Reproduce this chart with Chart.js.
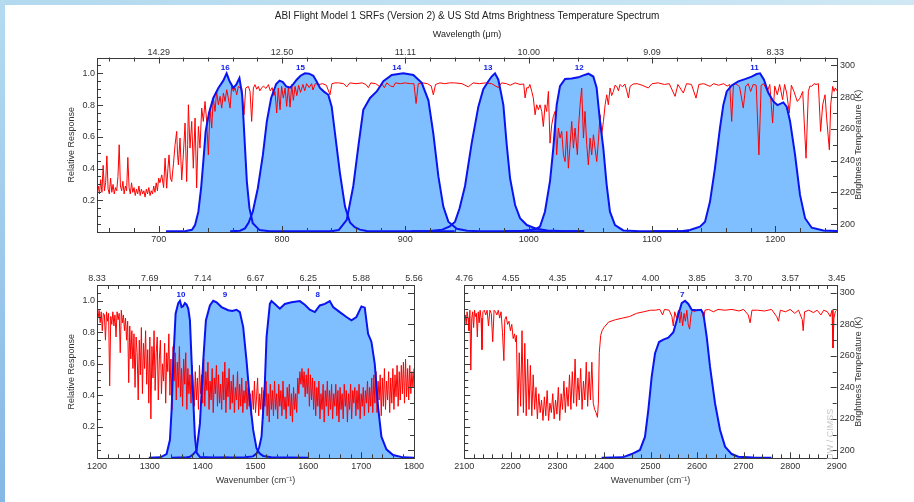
<!DOCTYPE html>
<html>
<head>
<meta charset="utf-8">
<script src="https://cdn.jsdelivr.net/npm/chart.js@4.4.1/dist/chart.umd.min.js"></script>
<style>
  html, body { margin: 0; padding: 0; background: #fff; }
  #page { position: relative; width: 914px; height: 502px; overflow: hidden; background: #fff; }
  #topbar { position: absolute; left: 0; top: 0; width: 914px; height: 5px; background: linear-gradient(90deg, #b2d9ef, #cfe8f4); }
  #leftbar { position: absolute; left: 0; top: 0; width: 5px; height: 502px; background: linear-gradient(#b4dbf0, #86b8e6); }
  canvas { position: absolute; }
</style>
</head>
<body>
<div id="page">
  <div id="topbar"></div>
  <div id="leftbar"></div>
  <canvas id="topChart" width="914" height="250" style="left:0;top:0"></canvas>
  <canvas id="lwChart" width="440" height="252" style="left:0;top:250px"></canvas>
  <canvas id="swChart" width="474" height="252" style="left:440px;top:250px"></canvas>
</div>
<script>
// ---- tick labels ----
const topWnTicks = [700, 800, 900, 1000, 1100, 1200];
const topWlLabels = ['14.29', '12.50', '11.11', '10.00', '9.09', '8.33'];
const lwWnTicks = [1200, 1300, 1400, 1500, 1600, 1700, 1800];
const lwWlLabels = ['8.33', '7.69', '7.14', '6.67', '6.25', '5.88', '5.56'];
const swWnTicks = [2100, 2200, 2300, 2400, 2500, 2600, 2700, 2800, 2900];
const swWlLabels = ['4.76', '4.55', '4.35', '4.17', '4.00', '3.85', '3.70', '3.57', '3.45'];
const respTicks = [0.2, 0.4, 0.6, 0.8, 1.0];
const btTicks = [200, 220, 240, 260, 280, 300];

// ---- band labels ----
const topBands = ['16', '15', '14', '13', '12', '11'];
const topBandWn = [754, 815, 893, 967, 1041, 1183];
const lwBands = ['10', '9', '8'];
const lwBandWn = [1359, 1442, 1618];
const swBands = ['7'];
const swBandWn = [2568];

// ---- spectral response functions [wavenumber, relative response] ----
const srf16 = [[706,0.004],[722,0.006],[727,0.014],[729.5,0.044],[732.2,0.128],[734.4,0.276],[736.2,0.444],[738.1,0.634],[740.8,0.75],[744.3,0.845],[748.4,0.908],[752.4,0.954],[755.1,1.0],[757.5,0.95],[760.6,0.908],[763,0.93],[765.5,0.97],[767.7,0.865],[769.6,0.59],[771.5,0.318],[773.6,0.15],[776.3,0.055],[781.8,0.012],[790,0.005],[842,0.004]];
const srf15 = [[758,0.004],[766,0.008],[770,0.023],[773,0.06],[776.3,0.128],[780.4,0.276],[784.5,0.486],[787.7,0.697],[791.2,0.845],[795.3,0.933],[798,0.954],[800.7,0.945],[803.4,0.918],[806.5,0.91],[809,0.93],[811.9,0.96],[815,0.985],[818.6,1.0],[822,0.998],[825.4,0.985],[828,0.95],[830.8,0.908],[834,0.885],[837.5,0.865],[840.3,0.79],[843,0.62],[847,0.37],[851.1,0.16],[855.1,0.06],[859,0.03],[863.2,0.015],[868.7,0.006],[900,0.004],[940,0.004]];
const srf14 = [[839,0.004],[846,0.012],[852.5,0.076],[857.8,0.29],[861.9,0.54],[865.9,0.77],[871.4,0.845],[876.8,0.886],[882.2,0.95],[889,0.99],[898.4,1.0],[906.5,0.99],[913.3,0.94],[918.7,0.83],[922.7,0.62],[926.8,0.35],[930.8,0.16],[934.9,0.065],[941.7,0.02],[950,0.008],[960,0.005],[1000,0.004],[1045,0.004]];
const srf13 = [[905,0.004],[920,0.006],[930,0.015],[936,0.035],[940.3,0.065],[944,0.15],[948.4,0.29],[953.8,0.56],[959.2,0.79],[963.2,0.9],[967.3,0.95],[970,0.98],[972.7,1.0],[975.4,0.96],[977.5,0.88],[979.5,0.8],[982.2,0.55],[984.9,0.34],[989,0.17],[993,0.087],[998.5,0.044],[1006.6,0.02],[1015,0.01],[1030,0.005],[1045,0.004]];
const srf12 = [[980,0.004],[995,0.008],[1001,0.013],[1006,0.02],[1009.2,0.034],[1013.2,0.128],[1017.3,0.32],[1020,0.53],[1022.7,0.8],[1025.4,0.92],[1029.5,0.965],[1034.9,0.967],[1040.3,0.975],[1044.3,0.987],[1048.4,0.998],[1052.4,0.98],[1055.1,0.91],[1057.8,0.7],[1060.5,0.53],[1063.2,0.3],[1065.9,0.128],[1070,0.044],[1076.7,0.01],[1090,0.005],[1130,0.004]];
const srf11 = [[1100,0.004],[1125,0.006],[1130.8,0.013],[1138.9,0.034],[1143,0.065],[1147,0.19],[1151,0.4],[1155.1,0.655],[1157.8,0.8],[1160.6,0.886],[1164.6,0.924],[1170,0.95],[1175.4,0.964],[1180.8,0.979],[1184.9,0.996],[1187.6,1.0],[1190.8,0.96],[1194.4,0.876],[1198.4,0.823],[1201.7,0.8],[1206.5,0.817],[1209.2,0.79],[1211.9,0.7],[1216,0.486],[1220,0.234],[1224.1,0.087],[1229.5,0.027],[1239,0.01],[1250,0.006]];
const srf10 = [[1298,0.004],[1320,0.006],[1331.7,0.027],[1338,0.116],[1341.2,0.306],[1344.4,0.62],[1348.8,0.918],[1353.8,0.985],[1357,1.0],[1360.1,0.96],[1363,0.965],[1366.4,0.985],[1369.5,0.975],[1372.7,0.95],[1375.9,0.875],[1379,0.62],[1382.2,0.37],[1385.3,0.137],[1388.5,0.036],[1394.8,0.008],[1420,0.004],[1450,0.004]];
const srf9 = [[1340,0.004],[1370,0.006],[1375.9,0.01],[1382,0.025],[1388.5,0.05],[1394.8,0.22],[1401.1,0.62],[1406.1,0.875],[1413.7,0.97],[1420,1.0],[1426.3,0.99],[1435.7,0.96],[1448.4,0.94],[1456,0.935],[1464.1,0.943],[1470.4,0.928],[1476.7,0.833],[1483,0.62],[1489.3,0.37],[1495.6,0.18],[1502,0.063],[1508,0.03],[1514.6,0.015],[1530,0.006],[1600,0.004]];
const srf8 = [[1400,0.004],[1480,0.006],[1495,0.012],[1502,0.03],[1507,0.07],[1511.4,0.137],[1517.7,0.475],[1520.9,0.77],[1527.2,0.98],[1530.3,0.998],[1536.6,0.98],[1546.1,0.95],[1555.5,0.98],[1568.1,0.99],[1583.9,0.998],[1593.3,0.975],[1602.8,0.943],[1612.3,0.928],[1621.7,0.97],[1631.2,0.98],[1640.6,0.998],[1646.9,0.96],[1659.5,0.928],[1672.1,0.897],[1681.6,0.876],[1691,0.897],[1700.5,0.964],[1706.8,0.956],[1713.1,0.79],[1719.4,0.74],[1725.7,0.6],[1732,0.327],[1738.3,0.137],[1747.8,0.057],[1760.4,0.021],[1779.3,0.006],[1800,0.004]];
const srf7 = [[2395,0.004],[2440,0.006],[2459.6,0.027],[2477.4,0.053],[2488.2,0.137],[2495.3,0.306],[2502.5,0.517],[2509.7,0.665],[2518.3,0.738],[2527.6,0.753],[2538.3,0.766],[2549.1,0.8],[2558.4,0.897],[2567,0.985],[2574.2,1.0],[2581.3,0.98],[2588.5,0.943],[2599.2,0.939],[2608.6,0.943],[2613.6,0.918],[2620.8,0.77],[2627.9,0.58],[2638.7,0.348],[2649.4,0.18],[2660.2,0.074],[2674.5,0.027],[2688.8,0.01],[2720,0.005],[2760,0.004]];

// ---- US standard atmosphere brightness temperature [wavenumber, K] ----
const topSpectrum = [[650,221],[651,224],[652,219],[653,228],[654,220],[655,237],[656,221],[657,226],[658,243],[659,222],[660,219],[661,229],[662,220],[663,225],[664,219],[665,223],[666,221],[667,230],[668,250],[669,224],[670,221],[671,227],[672,219],[673,224],[674,221],[675,242],[676,223],[677,219],[678,226],[679,220],[680,223],[681,218],[682,222],[683,219],[684,224],[685,218],[686,222],[687,219],[688,221],[689,217],[690,222],[691,219],[692,223],[693,218],[694,221],[695,219],[696,224],[697,220],[698,226],[699,221],[700,229],
  [701,226],[702.5,231],[704,223],[705.2,241.5],[706.5,222.6],[707.5,235],[708.4,243.6],[709.5,229],[710.6,226.8],[712,238],[713.3,250],[714.6,258.4],[715.3,244],[716,237.3],[717.3,254.2],[718.7,227.8],[720,243.6],[721.4,263.7],[722.7,226.8],[723.5,250],[724.1,275.2],[725.4,247.9],[726.8,264.7],[728.1,235.2],[729.5,266.8],[730.8,222.8],[732.2,261.5],[733.5,247.9],[734.9,273.1],[736.2,264.7],[737.6,277.3],
  [738.9,264.7],[740.3,243.6],[741.6,273.1],[743,260.5],[744.3,279.4],[745.7,271],[747,283.6],[748.4,275.2],[749.8,280.5],[751.1,273.1],[752.5,282.6],[753.8,277.3],[755.2,284.7],[756.5,279.4],[757.9,273.1],[759.2,286.8],[760.6,283.6],[761.9,285.8],[763.3,281.5],[764.6,286.8],[766,285.8],[767.3,285.8],[769.2,268.9],[770.6,285.8],[772.7,286.8],[774.1,283.6],[775.4,264.7],[776.8,285.8],[778.1,287.9],[779.5,285],[780.8,286.8],[782,284],[783.5,285.8],
  [785,287],[787,285.5],[789,287.9],[790.5,284],[792,286],[793.5,281],[794.3,283.6],[795.7,270],[797,285.8],[798.4,272],[799.7,286.8],[801.1,279.4],[802.5,285.8],[803.8,274.2],[805.2,286.8],[806.5,273.7],[807.9,287.9],[809.2,278],[810.6,286.8],[812,281],[813.5,287.5],[815,283],[817,288],[818.4,284],[820,288.5],[822,286],[824,288.5],[825.1,284.5],[827,288.5],[830,288],[833,288.5],[836,287.5],[838.9,281.5],[840.5,288.5],[843,289],
  [846,289],[850,288.5],[852.5,286.5],[855,289],[860,288.5],[865,289],[868,288],[870,286],[872,289],[876,288.5],[879.5,286.5],[881,288.5],[883,286],[885,289],[888,287],[890.3,286.5],[892,289],[896,288.5],[900,289],[904,288.5],[907,288.5],[908.7,276],[910.5,288.5],[914,289],[918,288.5],[921,287],[922.7,281.5],[924.5,288],[928,289],[932,288.5],[936,289],[940,289],[946,288.5],[951,286.5],[955,289],[960,288.5],[965,289],[970,288.5],[975.4,286],[978,289],[982,288.5],[985,287.5],[989,289],[993,288],
  [996,288.3],[997.1,279.5],[998.5,286],[999.8,285.8],[1001,288],[1002.5,283.6],[1003.8,279.4],[1005.2,268.9],[1006.5,275.2],[1007.9,272.1],[1009.2,275.2],[1010.6,271],[1011.9,261.5],[1013.3,275.2],[1014.6,271],[1016,283.6],[1017.3,251],[1018.7,262.6],[1020,267.9],[1021.4,271],[1022.7,243.6],[1024.1,260.5],[1025.4,254.2],[1026.8,258.4],[1028.2,243.6],[1029.5,239.4],[1030.9,258.4],[1032.2,235.2],[1033.6,250],[1034.9,264.7],[1036.3,247.9],[1037.6,260.5],[1039.5,243.6],[1040.5,262],[1041.7,275.2],[1043,285.8],[1044.4,254.2],[1045.7,271],[1047.1,250],[1048.4,237.3],[1049.8,254.2],[1051.1,243.6],[1052.5,256.3],[1053.8,247.9],[1055.2,239.4],[1056.5,252],[1057.9,268.9],[1059.2,256.3],[1060.6,264.7],[1062,275.2],[1063.3,281.5],[1064.6,275.2],[1066,285.8],[1067.3,281],[1068.7,283.6],[1070,287.5],[1071.4,286.8],[1072.8,284],[1074.1,288],[1076,286.5],[1078,288.3],[1079.5,284],[1080.9,279.5],[1082.2,286.8],[1084.9,288.3],
  [1088,288.5],[1092,287.5],[1097,285.8],[1100,288.5],[1105,289],[1110,288],[1114,288.5],[1118.7,280.5],[1121,288],[1125.4,282.6],[1128,288.5],[1132,288],[1135.7,279.4],[1138,288],[1142,288.5],[1147,286.8],[1150,288.5],[1154,287.5],[1158,288.5],[1161,287],
  [1163,288],[1164.6,264.7],[1166,287.5],[1168,288.5],[1171,286.5],[1174,273.1],[1176,287],[1178,288.5],[1180,283.6],[1182,288],[1184.5,287.5],[1186.7,243.6],[1188.5,287.5],[1190.5,288.5],[1193.5,283.6],[1195.5,288],[1197.8,263.7],[1199.5,287],[1201.6,281.5],[1203.5,288],[1205.9,278.4],[1207.5,288],[1209.2,282.6],[1211.3,270],[1213,287.5],[1215.1,283.6],[1217.8,277.3],[1220,279.4],[1222.2,283.6],[1224.9,241.5],[1226.8,283.6],[1228,287],[1229.5,286.8],[1231.4,288.5],[1233,288],[1234.9,288.5],[1236.7,258.4],[1238.4,275.2],[1240.3,281.5],[1241.6,266.8],[1243.8,246.8],[1244.9,275.2],[1246.5,286.8],[1247.6,283.6],[1248.6,285.8],[1250,284]];

const lwSpectrum = [[1200,290],[1202,284],[1204,289],[1206,281],[1208,288],[1210,276],[1212,287],[1214,286],[1216,270],[1218,288],[1220,282],[1222,287],[1224,241],[1226,285],[1228,280],[1230,288],[1232,279],[1234,286],[1236,272],[1238,288],[1240,283],[1242,287],[1244,262],[1246,289],[1248,281],[1250,286],[1252,276],[1254,284],[1256,270],[1258,282],[1260,243],
  [1262,279],[1264,258],[1266,276],[1268,252],[1270,274],[1272,240],[1274,272],[1276,262],[1278,232],[1280,270],[1282,248],[1284,278],[1286,236],[1288,268],[1290,252],[1292,276],[1294,242],[1296,264],[1298,230],[1300,272],[1302,220],
  [1304,266],[1306,246],[1308,276],[1310,238],[1312,262],[1314,272],[1316,232],[1318,258],[1320,270],[1322,236],[1324,255],[1326,244],[1328,268],[1330,230],[1332,262],[1334,250],[1336,274],[1338,235],[1340,258],[1342,226],[1344,266],
  [1346,244],[1348,262],[1350,232],[1352,256],[1354,240],[1356,266],[1358,234],[1360,252],[1362,228],[1364,258],[1366,242],[1368,262],[1370,226],[1372,252],[1374,236],[1376,248],[1378,230],[1380,254],[1382,242],[1384,228],
  [1386,250],[1388,232],[1390,246],[1392,226],[1394,254],[1396,236],[1398,248],[1400,230],[1402,258],[1404,228],[1406,250],[1408,238],[1410,256],[1412,226],[1414,244],[1416,232],[1418,252],[1420,224],[1422,246],[1424,236],[1426,254],[1428,228],[1430,248],[1432,230],[1434,242],[1436,226],[1438,250],[1440,232],[1442,256],[1444,224],[1446,246],[1448,234],[1450,252],[1452,226],[1454,244],[1456,230],[1458,248],[1460,224],[1462,240],[1464,232],[1466,250],[1468,226],[1470,242],[1472,228],[1474,246],[1476,224],[1478,238],[1480,230],[1482,244],[1484,226],[1486,240],
  [1488,228],[1490,236],[1492,222],[1494,238],[1496,226],[1498,244],[1500,224],[1502,234],[1504,246],[1506,222],[1508,236],[1510,226],[1512,240],[1514,220],[1516,238],[1518,228],[1520,244],[1522,222],[1524,236],[1526,218],[1528,242],[1530,226],[1532,238],[1534,222],[1536,244],[1538,226],[1540,236],[1542,220],[1544,242],[1546,228],[1548,238],[1550,222],[1552,244],[1554,226],[1556,234],[1558,220],[1560,240],[1562,228],[1564,242],[1566,222],[1568,236],[1570,218],[1572,240],[1574,226],[1576,236],[1578,224],
  [1580,246],[1582,236],[1584,250],[1586,242],[1588,252],[1590,240],[1592,250],[1594,234],[1596,248],[1598,236],[1600,252],[1602,228],[1604,248],[1606,232],[1608,246],[1610,226],[1612,244],[1614,222],
  [1616,240],[1618,228],[1620,244],[1622,220],[1624,236],[1626,226],[1628,242],[1630,218],[1632,238],[1634,228],[1636,244],[1638,222],[1640,238],[1642,226],[1644,242],[1646,220],[1648,236],[1650,228],[1652,242],[1654,222],[1656,238],[1658,218],[1660,240],[1662,226],[1664,236],[1666,220],[1668,242],[1670,228],[1672,238],[1674,218],[1676,236],[1678,226],[1680,242],[1682,220],[1684,238],[1686,230],[1688,240],[1690,222],[1692,238],[1694,226],[1696,242],[1698,220],[1700,236],[1702,228],[1704,240],[1706,222],[1708,238],[1710,230],[1712,244],[1714,224],[1716,240],[1718,228],
  [1720,246],[1722,224],[1724,248],[1726,230],[1728,250],[1730,224],[1732,244],[1734,232],[1736,248],[1738,222],[1740,246],[1742,228],[1744,252],[1746,226],[1748,244],[1750,232],[1752,250],[1754,224],[1756,246],[1758,230],[1760,252],[1762,226],[1764,248],[1766,234],[1768,254],[1770,228],[1772,250],[1774,232],[1776,254],[1778,236],[1780,256],[1782,230],[1784,258],[1786,234],[1788,252],[1790,232],[1792,254],[1794,236],[1796,250],[1798,240],[1800,252]];

const swSpectrum = [[2100,283],[2102,286],[2104,280],[2106,288],[2108,284],[2110,276],[2112,289],[2114,251],[2116,284],[2118,288],[2120,278],[2122,289],[2124,285],[2126,287],[2128,272],[2130,288],[2132,281],[2134,289],[2136,284],[2138,264],[2140,288],[2143,289],[2146,286],[2149,289],[2152,279],[2155,289],[2158,287],[2161,269],[2164,289],[2167,288],[2170,286],[2173,289],[2176,284],[2179,288],[2182,275],[2185,257],[2187,283],[2190,285],[2193,280],[2196,282],[2199,276],[2202,280],[2205,271],[2208,274],[2210,269],[2212,273],
  [2215,222],[2218,262],[2221,228],[2224,276],[2227,224],[2230,268],[2233,222],[2236,258],[2239,226],[2242,254],[2245,222],[2248,248],[2251,226],[2254,240],[2257,220],[2260,236],[2263,224],[2266,232],[2269,219],[2272,234],[2275,222],[2278,238],[2281,219],[2284,230],[2287,224],[2290,236],[2293,220],[2296,232],[2299,223],[2302,240],[2305,219],[2308,236],[2311,226],[2314,244],[2317,224],[2320,240],[2323,228],[2326,248],[2329,226],[2332,250],[2335,230],[2338,258],[2341,228],[2344,246],[2347,232],[2350,252],[2353,226],[2356,244],[2359,232],[2362,256],[2365,228],[2368,250],[2371,232],[2374,256],[2377,230],[2380,226],[2383,224],[2386,221],
  [2388,230],[2390,262],[2393,273],[2396,276],[2400,278],[2410,281.5],[2425,283],[2440,284],[2455,285],[2470,287],[2485,288],[2500,289],[2510,289],[2520,289.5],[2526,286],[2530,289.5],[2540,289],[2546,285],[2549,279],[2552,288],[2556,284],[2560,289],[2563,281],[2566,288],[2569,279],[2572,287],[2575,282],[2578,289],[2581,280],[2584,277],[2587,286],[2590,289],[2595,288],[2600,289.5],[2610,289],[2614,284],[2617,289],[2625,289.5],[2635,288],[2645,289.5],[2660,289],[2675,289.5],[2690,288.5],[2700,289.5],[2710,286],[2714,281],[2718,289],[2730,289],[2745,288.5],[2760,289.5],[2771,285],[2775,282],[2779,289],[2790,288],[2800,289.5],[2810,287],[2818,289],[2826,283],[2828,276],[2831,288],[2840,289],[2850,287.5],[2858,289],[2866,286],[2872,289],[2880,288],[2886,285],[2890,289],[2892,265],[2894,284],[2897,288],[2900,289]];

// ---- styling ----
const FONT = "'Liberation Sans', Arial, Helvetica, sans-serif";
const AXIS = '#3a3a3a';
const TEXT = '#333';
const SRF_LINE = '#0a14f0';
const SRF_FILL = '#80bfff';
const BT_LINE = '#ff0000';

Chart.defaults.font.family = FONT;
Chart.defaults.color = TEXT;

// frame, inward ticks, band numbers, right-hand title, watermark
const panelDecor = {
  id: 'panelDecor',
  afterDatasetsDraw(chart, args, o) {
    const { ctx, chartArea: a, scales } = chart;
    ctx.save();
    ctx.strokeStyle = AXIS;
    ctx.lineWidth = 1;
    ctx.beginPath();
    const xs = scales.x;
    for (let v = Math.ceil(xs.min / 20) * 20; v <= xs.max; v += 20) {
      const px = Math.round(xs.getPixelForValue(v)) + 0.5;
      const len = v % 100 === 0 ? 6 : 4;
      ctx.moveTo(px, a.bottom); ctx.lineTo(px, a.bottom - len);
      ctx.moveTo(px, a.top); ctx.lineTo(px, a.top + len);
    }
    const ys = scales.y;
    for (let i = 1; i * 0.05 < ys.max; i++) {
      const py = Math.round(ys.getPixelForValue(i * 0.05)) + 0.5;
      const len = i % 4 === 0 ? 6 : 4;
      ctx.moveTo(a.left, py); ctx.lineTo(a.left + len, py);
    }
    const ks = scales.y2;
    for (let v = 200; v <= 300; v += 10) {
      const py = Math.round(ks.getPixelForValue(v)) + 0.5;
      const len = v % 20 === 0 ? 6 : 4;
      ctx.moveTo(a.right, py); ctx.lineTo(a.right - len, py);
    }
    ctx.stroke();
    ctx.strokeRect(Math.round(a.left) + 0.5, Math.round(a.top) + 0.5,
      Math.round(a.right) - Math.round(a.left), Math.round(a.bottom) - Math.round(a.top));

    // band numbers
    ctx.fillStyle = '#1020e8';
    ctx.font = 'bold 8px ' + FONT;
    ctx.textAlign = 'center';
    ctx.textBaseline = 'middle';
    o.bands.forEach((b, i) => {
      ctx.fillText(b, xs.getPixelForValue(o.bandWn[i]), ys.getPixelForValue(1.036));
    });

    const midY = (a.top + a.bottom) / 2;
    if (o.rightTitle) {
      ctx.save();
      ctx.translate(a.right + 22, midY);
      ctx.rotate(-Math.PI / 2);
      ctx.fillStyle = TEXT;
      ctx.font = '9px ' + FONT;
      ctx.fillText(o.rightTitle, 0, 0);
      ctx.restore();
    }
    if (o.watermark) {
      ctx.save();
      ctx.translate(a.right - 6, a.bottom - 24);
      ctx.rotate(-Math.PI / 2);
      ctx.fillStyle = '#c8c8c8';
      ctx.font = '9px ' + FONT;
      ctx.fillText(o.watermark, 0, 0);
      ctx.restore();
    }
    ctx.restore();
  }
};

function srfSet(data) {
  return {
    data: data, yAxisID: 'y', borderColor: SRF_LINE, borderWidth: 2,
    backgroundColor: SRF_FILL, fill: 'origin', pointRadius: 0, tension: 0, order: 1
  };
}

function btSet(data) {
  return {
    data: data, yAxisID: 'y2', borderColor: BT_LINE, borderWidth: 1,
    fill: false, pointRadius: 0, tension: 0, order: 2
  };
}

function fixedTicks(values) {
  return s => { s.ticks = values.map(v => ({ value: v })); };
}

function makePanel(id, cfg) {
  const tickFont = { size: 9, lineHeight: 1.2 };
  const titleFont = { size: 9, lineHeight: 1.2 };
  return new Chart(document.getElementById(id), {
    type: 'line',
    data: { datasets: [btSet(cfg.spectrum)].concat(cfg.srfs.map(srfSet)) },
    options: {
      responsive: false,
      animation: false,
      events: [],
      layout: { padding: 0 },
      plugins: {
        legend: { display: false },
        tooltip: { enabled: false },
        filler: { drawTime: 'beforeDatasetsDraw' },
        title: cfg.title ? {
          display: true, text: cfg.title, color: '#222', fullSize: false,
          font: { size: 10, weight: 'normal', lineHeight: 1.2 }, padding: { top: 10, bottom: 0 }
        } : { display: false },
        subtitle: cfg.subtitle ? {
          display: true, text: cfg.subtitle, color: '#222', fullSize: false,
          font: { size: 9, lineHeight: 1.2 }, padding: { top: 7.5, bottom: 0 }
        } : { display: false },
        panelDecor: { bands: cfg.bands, bandWn: cfg.bandWn, rightTitle: cfg.rightTitle, watermark: cfg.watermark }
      },
      scales: {
        x: {
          type: 'linear', position: 'bottom', min: cfg.xMin, max: cfg.xMax,
          afterBuildTicks: fixedTicks(cfg.wnTicks),
          ticks: { padding: cfg.xPad, font: tickFont, maxRotation: 0, autoSkip: false, callback: v => String(v) },
          grid: { display: false, drawTicks: false }, border: { display: false },
          title: cfg.xTitle ? { display: true, text: cfg.xTitle, font: titleFont, padding: { top: 0, bottom: 16.3 } } : { display: false },
          afterFit: s => { s.height = cfg.bottomH; }
        },
        x2: {
          type: 'linear', position: 'top', min: cfg.xMin, max: cfg.xMax,
          afterBuildTicks: fixedTicks(cfg.wnTicks),
          ticks: { padding: cfg.topPad, font: tickFont, maxRotation: 0, autoSkip: false,
            callback: v => cfg.wlLabels[cfg.wnTicks.indexOf(v)] },
          grid: { display: false, drawTicks: false }, border: { display: false },
          afterFit: s => { s.height = cfg.topH; }
        },
        y: {
          type: 'linear', position: 'left', min: 0, max: 1.1,
          afterBuildTicks: fixedTicks(respTicks),
          ticks: { display: cfg.leftLabels, padding: 2, font: tickFont, callback: v => v.toFixed(1) },
          grid: { display: false, drawTicks: false }, border: { display: false },
          title: cfg.leftLabels ? { display: true, text: 'Relative Response', font: titleFont, padding: { top: 66.3, bottom: 0 } } : { display: false },
          afterFit: s => { s.width = cfg.leftW; }
        },
        y2: {
          type: 'linear', position: 'right', min: 195, max: 305,
          afterBuildTicks: fixedTicks(btTicks),
          ticks: { display: !!cfg.rightTitle, padding: 3, font: tickFont, callback: v => String(v) },
          grid: { display: false, drawTicks: false }, border: { display: false },
          afterFit: s => { s.width = cfg.rightW; }
        }
      }
    },
    plugins: [panelDecor]
  });
}

makePanel('topChart', {
  spectrum: topSpectrum, srfs: [srf16, srf15, srf14, srf13, srf12, srf11],
  bands: topBands, bandWn: topBandWn,
  xMin: 650, xMax: 1250, wnTicks: topWnTicks, wlLabels: topWlLabels,
  title: 'ABI Flight Model 1 SRFs (Version 2) & US Std Atms Brightness Temperature Spectrum',
  subtitle: 'Wavelength (\u03bcm)',
  leftLabels: true, rightTitle: 'Brightness Temperature (K)',
  leftW: 97, rightW: 77, topH: 17.2, bottomH: 18, xPad: 2, topPad: 0
});

makePanel('lwChart', {
  spectrum: lwSpectrum, srfs: [srf10, srf9, srf8],
  bands: lwBands, bandWn: lwBandWn,
  xMin: 1200, xMax: 1800, wnTicks: lwWnTicks, wlLabels: lwWlLabels,
  xTitle: 'Wavenumber (cm\u207b\u00b9)',
  leftLabels: true, rightTitle: null,
  leftW: 97, rightW: 26, topH: 35, bottomH: 43.7, xPad: 3, topPad: 1
});

makePanel('swChart', {
  spectrum: swSpectrum, srfs: [srf7],
  bands: swBands, bandWn: swBandWn,
  xMin: 2100, xMax: 2900, wnTicks: swWnTicks, wlLabels: swWlLabels,
  xTitle: 'Wavenumber (cm\u207b\u00b9)',
  leftLabels: false, rightTitle: 'Brightness Temperature (K)', watermark: 'UW / CIMSS',
  leftW: 24.3, rightW: 77.3, topH: 35, bottomH: 43.7, xPad: 3, topPad: 1
});
</script>
</body>
</html>
